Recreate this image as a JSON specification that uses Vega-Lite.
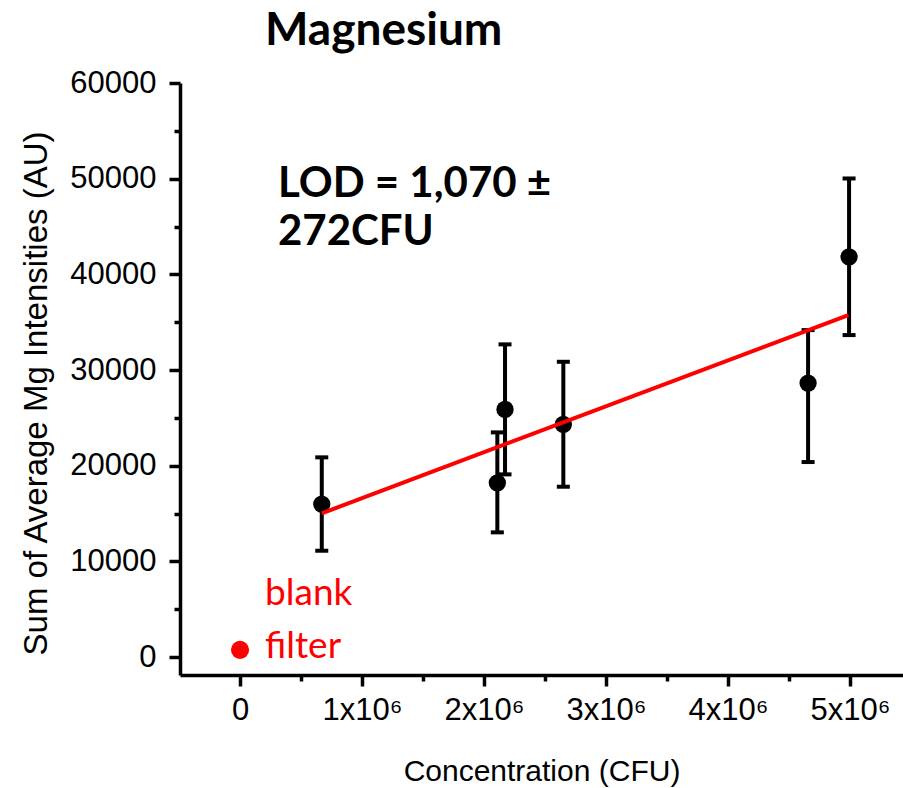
{
  "$schema": "https://vega.github.io/schema/vega-lite/v6.json",
  "autosize": "none",
  "width": 723,
  "height": 592,
  "padding": {"left": 180, "top": 83, "right": 0, "bottom": 113},
  "background": "white",
  "title": {
    "text": "Magnesium",
    "anchor": "start",
    "frame": "group",
    "dx": 85,
    "dy": 48,
    "offset": 24,
    "baseline": "alphabetic",
    "font": "Lato",
    "fontSize": 46,
    "fontWeight": "bold",
    "color": "black"
  },
  "config": {
    "view": {"stroke": null},
    "axis": {
      "grid": false,
      "domainColor": "black",
      "domainWidth": 3.5,
      "tickColor": "black",
      "tickWidth": 3.5,
      "labelColor": "black",
      "labelFont": "Liberation Sans",
      "labelFontSize": 31,
      "labelOverlap": false,
      "labelFlush": false,
      "labelBound": false,
      "titleColor": "black",
      "titleFont": "Liberation Sans",
      "titleFontSize": 30,
      "titleFontWeight": "normal"
    }
  },
  "datasets": {
    "samples": [
      {"conc": 670000, "mean": 15990, "lo": 11110, "hi": 20870},
      {"conc": 2109000, "mean": 18210, "lo": 13030, "hi": 23480},
      {"conc": 2172000, "mean": 25880, "lo": 19090, "hi": 32680},
      {"conc": 2650000, "mean": 24320, "lo": 17800, "hi": 30860},
      {"conc": 4656000, "mean": 28630, "lo": 20380, "hi": 34170},
      {"conc": 4992000, "mean": 41830, "lo": 33650, "hi": 50020}
    ],
    "blank": [
      {"conc": 0, "mean": 750}
    ],
    "fit": [
      {"conc": 670000, "fit": 15020},
      {"conc": 4986000, "fit": 35740}
    ]
  },
  "layer": [
    {
      "data": {"name": "samples"},
      "mark": {
        "type": "errorbar",
        "ticks": {"size": 13, "thickness": 4, "color": "black", "opacity": 1},
        "rule": {"strokeWidth": 4, "color": "black", "opacity": 1}
      },
      "encoding": {
        "x": {
          "field": "conc",
          "type": "quantitative",
          "scale": {"domain": [-492000, 5434000], "nice": false, "zero": false},
          "axis": {
            "orient": "bottom",
            "values": [0, 500000, 1000000, 1500000, 2000000, 2500000, 3000000, 3500000, 4000000, 4500000, 5000000],
            "tickSize": {"condition": {"test": "datum.value % 1000000 === 0", "value": 11}, "value": 6},
            "labelPadding": 9,
            "labelExpr": "datum.value === 0 ? '0' : (datum.value % 1000000 ? '' : format(datum.value / 1000000, 'd') + 'x10⁶')",
            "title": "Concentration (CFU)",
            "titleY": 105,
            "titleBaseline": "alphabetic"
          }
        },
        "y": {
          "field": "lo",
          "type": "quantitative",
          "scale": {"domain": [-1880, 60000], "nice": false, "zero": false},
          "axis": {
            "orient": "left",
            "values": [0, 5000, 10000, 15000, 20000, 25000, 30000, 35000, 40000, 45000, 50000, 55000, 60000],
            "tickSize": {"condition": {"test": "datum.value % 10000 === 0", "value": 11}, "value": 6},
            "labelPadding": 13,
            "labelExpr": "datum.value % 10000 ? '' : format(datum.value, 'd')",
            "title": "Sum of Average Mg Intensities (AU)",
            "titleFontSize": 33,
            "titleAngle": 270,
            "titleX": -134,
            "titleY": 310,
            "titleAlign": "center",
            "titleBaseline": "alphabetic"
          }
        },
        "y2": {"field": "hi"}
      }
    },
    {
      "data": {"name": "samples"},
      "mark": {"type": "point", "shape": "circle", "filled": true, "color": "black", "opacity": 1, "size": 300},
      "encoding": {
        "x": {"field": "conc", "type": "quantitative"},
        "y": {"field": "mean", "type": "quantitative"}
      }
    },
    {
      "data": {"name": "blank"},
      "mark": {"type": "point", "shape": "circle", "filled": true, "color": "#ff0000", "opacity": 1, "size": 330},
      "encoding": {
        "x": {"field": "conc", "type": "quantitative"},
        "y": {"field": "mean", "type": "quantitative"}
      }
    },
    {
      "data": {"name": "fit"},
      "mark": {"type": "line", "color": "#ff0000", "strokeWidth": 4},
      "encoding": {
        "x": {"field": "conc", "type": "quantitative"},
        "y": {"field": "fit", "type": "quantitative"}
      }
    },
    {
      "data": {"values": [{"note": "LOD"}]},
      "mark": {
        "type": "text",
        "text": ["LOD = 1,070 ±", "272CFU"],
        "font": "Lato",
        "fontWeight": "bold",
        "fontSize": 42,
        "lineHeight": 48,
        "align": "left",
        "baseline": "alphabetic",
        "color": "black"
      },
      "encoding": {
        "x": {"datum": 311000, "type": "quantitative"},
        "y": {"datum": 48070, "type": "quantitative"}
      }
    },
    {
      "data": {"values": [{"note": "blank"}]},
      "mark": {
        "type": "text",
        "text": ["blank", "filter"],
        "font": "Lato",
        "fontSize": 37,
        "lineHeight": 53,
        "align": "left",
        "baseline": "alphabetic",
        "color": "#ff0000"
      },
      "encoding": {
        "x": {"datum": 205000, "type": "quantitative"},
        "y": {"datum": 5430, "type": "quantitative"}
      }
    }
  ]
}
